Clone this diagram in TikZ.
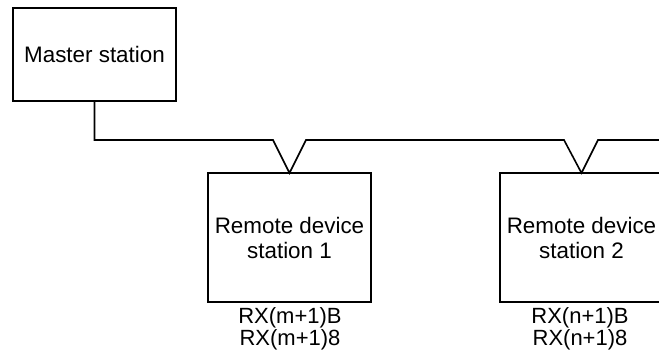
\documentclass[tikz,border=0pt]{standalone}
\usepackage{fontspec}
\setmainfont{Liberation Sans}
\begin{document}
\begin{tikzpicture}[x=0.5pt,y=-0.5pt,
  station/.style={draw, line width=0.8pt, minimum width=81.5pt, align=center, font=\fontsize{11.2}{12.5}\selectfont, inner sep=0pt, outer sep=0pt},
  reg/.style={align=center, font=\fontsize{11}{10}\selectfont, inner sep=0pt}]
\useasboundingbox (0,0) rectangle (659,351);
\clip (0,0) rectangle (659,351);
\node[station, minimum height=46.5pt] (master) at (94.5,54.5) {Master station};
\node[station, minimum height=64.5pt] (rd1) at (289.5,237.5) {Remote device\\station 1};
\node[station, minimum height=64.5pt] (rd2) at (581.5,237.5) {Remote device\\station 2};
\node[reg, anchor=north] (reg1) at (290,307) {RX(m+1)B\\RX(m+1)8};
\node[reg, anchor=north] (reg2) at (580,307) {RX(n+1)B\\RX(n+1)8};
\coordinate (busend) at (660,140);
\draw[line width=0.8pt] (master.south) |- (273,140) -- (rd1.north) -- (306,140) -- (564,140) -- (rd2.north) -- (598,140) -- (busend);
\end{tikzpicture}
\end{document}
